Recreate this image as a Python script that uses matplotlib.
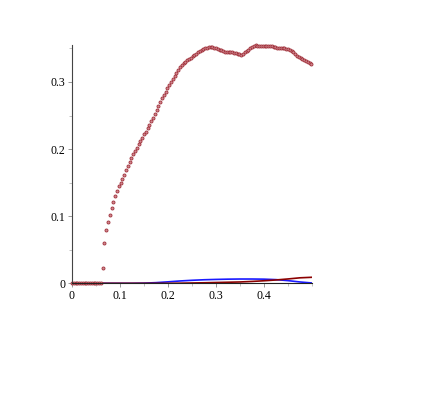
import numpy as np
import matplotlib.pyplot as plt
from matplotlib.ticker import MultipleLocator

# sampled curve (step 0.00375 in x)
step = 0.00375
y_pts = [0, 0, 0, 0, 0, 0, 0, 0, 0, 0, 0, 0, 0, 0, 0, 0, 0,
         0.023, 0.060, 0.080, 0.091, 0.102, 0.112, 0.121, 0.130, 0.138,
         0.145, 0.150, 0.156, 0.162, 0.169, 0.175, 0.180, 0.186, 0.192,
         0.197, 0.202, 0.207, 0.212, 0.217, 0.222, 0.226, 0.231, 0.236,
         0.2415, 0.247, 0.2525, 0.258, 0.264, 0.270, 0.2755, 0.2805, 0.2855,
         0.2905, 0.295, 0.300, 0.3045, 0.309, 0.3135, 0.318, 0.322, 0.325,
         0.3275, 0.330, 0.332, 0.334, 0.336, 0.338, 0.340, 0.342, 0.344,
         0.346, 0.3475, 0.349, 0.350, 0.351, 0.3515, 0.352, 0.352, 0.351,
         0.350, 0.349, 0.348, 0.347, 0.346, 0.345, 0.3446, 0.3443, 0.344,
         0.344, 0.3438, 0.343, 0.342, 0.341, 0.3408, 0.342, 0.344, 0.346,
         0.348, 0.350, 0.352, 0.3535, 0.3546, 0.354, 0.353, 0.353, 0.3535,
         0.354, 0.354, 0.354, 0.3535, 0.353, 0.352, 0.3515, 0.351, 0.3505,
         0.350, 0.350, 0.350, 0.3497, 0.349, 0.348, 0.3465, 0.3446, 0.342,
         0.339, 0.337, 0.3355, 0.334, 0.3325, 0.331, 0.3295, 0.328, 0.327]
x_pts = np.arange(len(y_pts)) * step

# the two small lines
x_line = [0, 0.025, 0.05, 0.075, 0.1, 0.125, 0.15, 0.175, 0.2, 0.225, 0.25,
          0.275, 0.3, 0.325, 0.35, 0.375, 0.4, 0.425, 0.45, 0.475, 0.5]
red_line = [0, 0, 0, 0, 0, 0, 0, 0, 0, 0.0002, 0.0005,
            0.0008, 0.0012, 0.0016, 0.002, 0.0028, 0.0038, 0.005, 0.0065, 0.0082, 0.009]
blue_line = [0, 0, 0, 0, 0, 0, 0.0003, 0.001, 0.0022, 0.0035, 0.0045,
             0.0053, 0.0058, 0.0062, 0.0064, 0.0064, 0.0062, 0.0055, 0.004, 0.002, 0.0005]

plt.rcParams['font.family'] = ['Liberation Serif', 'DejaVu Serif']

fig = plt.figure(figsize=(4.25, 4.13), dpi=100)
ax = fig.add_axes([0.1694, 0.314, 0.5647, 0.577])

ax.plot(x_line, blue_line, color='#1a1aff', lw=1.2)
ax.plot(x_line, red_line, color='#8b0000', lw=1.2)
ax.plot(x_pts, y_pts, 'o', ms=2.2, mfc='#d08890', mec='#a0303a', mew=0.6,
        clip_on=False)

ax.set_xlim(0, 0.5)
ax.set_ylim(0, 0.355)
ax.spines['top'].set_visible(False)
ax.spines['right'].set_visible(False)
ax.spines['left'].set_color('#444444')
ax.spines['bottom'].set_color('#222222')
ax.xaxis.set_major_locator(MultipleLocator(0.1))
ax.xaxis.set_minor_locator(MultipleLocator(0.05))
ax.yaxis.set_major_locator(MultipleLocator(0.1))
ax.yaxis.set_minor_locator(MultipleLocator(0.05))
ax.set_xticks([0, 0.1, 0.2, 0.3, 0.4])
ax.set_xticklabels(['0', '0.1', '0.2', '0.3', '0.4'])
ax.set_yticks([0, 0.1, 0.2, 0.3])
ax.set_yticklabels(['0', '0.1', '0.2', '0.3'])
ax.tick_params(which='major', length=3, width=0.6, labelsize=8.5, pad=2,
               color='#888888')
ax.tick_params(which='minor', length=2, width=0.5, color='#aaaaaa')

fig.savefig('out.png', dpi=100)
